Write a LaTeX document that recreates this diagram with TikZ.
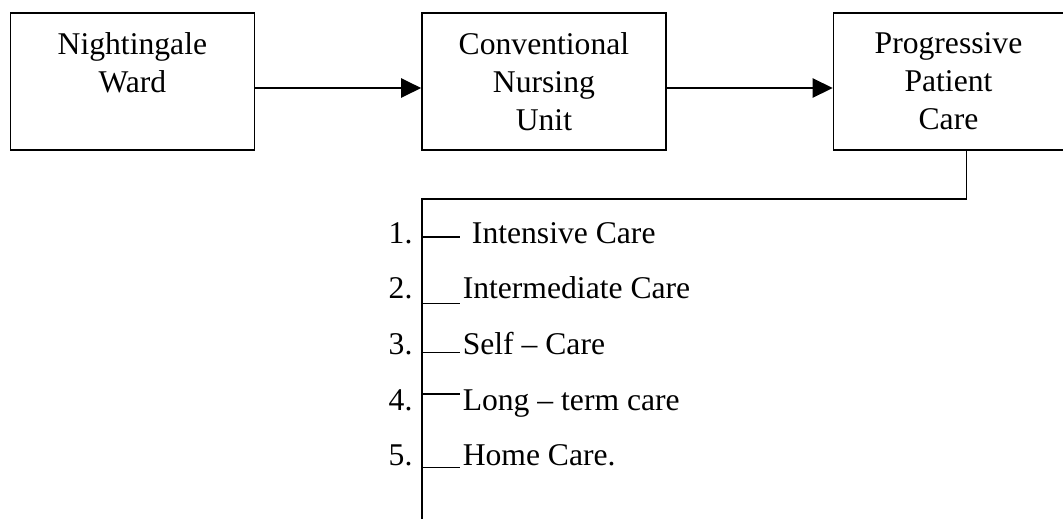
\documentclass[tikz,border=0pt]{standalone}
\usepackage{fontspec}
\setmainfont{Liberation Serif}
\usetikzlibrary{arrows.meta, positioning}

\begin{document}
\begin{tikzpicture}[
        node distance=4.15cm,
        line width=1.1pt,
        box/.style={rectangle, draw=black, fill=white, line width=1.1pt, minimum width=6.1cm, minimum height=3.42cm, align=center, font=\fontsize{22.5}{27}\selectfont},
        num/.style={inner sep=0pt, font=\fontsize{22.5}{27}\selectfont},
        item/.style={inner sep=0pt, font=\fontsize{22.5}{27}\selectfont},
        flow/.style={-{Triangle[length=0.5cm, width=0.48cm]}, line width=1.1pt}
    ]
        \useasboundingbox (0,0) rectangle (26.575,-12.975);

        \node[box] (ward) at (3.31,-2.04) {Nightingale\\Ward\\\mbox{}};
        \node[box, right=of ward] (unit) {Conventional\\Nursing\\Unit};
        \node[box, minimum width=5.75cm, right=of unit] (ppc) {Progressive\\Patient\\Care};

        \draw[flow] ([yshift=-0.16cm]ward.east) -- ([yshift=-0.16cm]unit.west);
        \draw[flow] ([yshift=-0.16cm]unit.east) -- ([yshift=-0.16cm]ppc.west);

        % trunk down to the list
        \coordinate (split) at (10.55,-4.975);
        \coordinate (tail) at (10.55,-12.975);
        \draw ([xshift=0.45cm]ppc.south) |- (split) -- (tail);

        \foreach \n/\txt/\dy/\tx in {1/Intensive Care/0.15/11.78, 2/Intermediate Care/-0.12/11.55, 3/Self -- Care/0.05/11.55, 4/Long -- term care/0.4/11.55, 5/Home Care./-0.05/11.55} {
            \pgfmathsetmacro{\yb}{-6.08-1.39*(\n-1)}
            \node[num, anchor=base east] (n\n) at (10.33,\yb) {\n.};
            \node[item, anchor=base west] (i\n) at (\tx,\yb) {\txt};
            \coordinate (s\n) at (10.55,\yb+\dy);
            \coordinate (e\n) at (11.5,\yb+\dy);
            \draw (s\n) -- (e\n);
        }
    \end{tikzpicture}
\end{document}
